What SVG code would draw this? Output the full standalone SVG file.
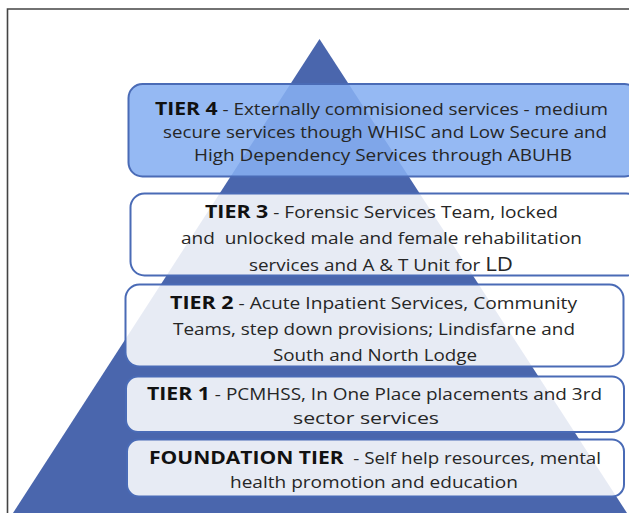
<svg xmlns="http://www.w3.org/2000/svg" width="629" height="513" viewBox="0 0 629 513">
<style>
  .box { stroke:#4a6bb6; stroke-width:2; }
  .t4 { fill:#86aff1; fill-opacity:0.88; }
  .lt { fill:#ffffff; fill-opacity:0.87; }
  text { font-family:"Open Sans","Noto Sans","Liberation Sans",sans-serif; font-size:16.5px; fill:#262626; }
  .b { font-weight:bold; font-size:18.5px; fill:#111111; }
</style>
<rect x="0" y="0" width="629" height="513" fill="#ffffff"/>
<path d="M7.5 513 V9 H629" fill="none" stroke="#444444" stroke-width="1.6"/>
<polygon points="319.5,39 13,513 627,513" fill="#4a66ad"/>
<g id="tier4">
  <rect class="box t4" x="128.5" y="84" width="510" height="92.5" rx="14"/>
  <text x="155" y="115" textLength="453" lengthAdjust="spacingAndGlyphs"><tspan class="b">TIER 4</tspan> - Externally commisioned services - medium</text>
  <text x="163" y="138" textLength="444" lengthAdjust="spacingAndGlyphs">secure services though WHISC and Low Secure and</text>
  <text x="194" y="161" textLength="378" lengthAdjust="spacingAndGlyphs">High Dependency Services through ABUHB</text>
</g>
<g id="tier3">
  <rect class="box lt" x="130.5" y="193.5" width="510" height="82" rx="14"/>
  <text x="205" y="218" textLength="353" lengthAdjust="spacingAndGlyphs"><tspan class="b">TIER 3</tspan> - Forensic Services Team, locked</text>
  <text x="181" y="244" textLength="401" lengthAdjust="spacingAndGlyphs" xml:space="preserve">and  unlocked male and female rehabilitation</text>
  <text x="249" y="271" textLength="264" lengthAdjust="spacingAndGlyphs">services and A &amp; T Unit for <tspan font-size="19.5px">LD</tspan></text>
</g>
<g id="tier2">
  <rect class="box lt" x="125.5" y="284.5" width="498" height="82" rx="14"/>
  <text x="170" y="309" textLength="407" lengthAdjust="spacingAndGlyphs"><tspan class="b">TIER 2</tspan> - Acute Inpatient Services, Community</text>
  <text x="173" y="335" textLength="402" lengthAdjust="spacingAndGlyphs">Teams, step down provisions; Lindisfarne and</text>
  <text x="273" y="361" textLength="204" lengthAdjust="spacingAndGlyphs">South and North Lodge</text>
</g>
<g id="tier1">
  <rect class="box lt" x="126" y="376.5" width="498" height="55.5" rx="12"/>
  <text x="147" y="400" textLength="455" lengthAdjust="spacingAndGlyphs"><tspan class="b">TIER 1</tspan> - PCMHSS, In One Place placements and 3rd</text>
  <text x="293" y="424" textLength="146" lengthAdjust="spacingAndGlyphs">sector services</text>
</g>
<g id="foundation">
  <rect class="box lt" x="127" y="439.5" width="497" height="57" rx="12"/>
  <text x="149" y="464" textLength="452" lengthAdjust="spacingAndGlyphs" xml:space="preserve"><tspan class="b">FOUNDATION TIER</tspan>  - Self help resources, mental</text>
  <text x="230" y="488" textLength="288" lengthAdjust="spacingAndGlyphs">health promotion and education</text>
</g>
<g id="connectors"></g>
</svg>
